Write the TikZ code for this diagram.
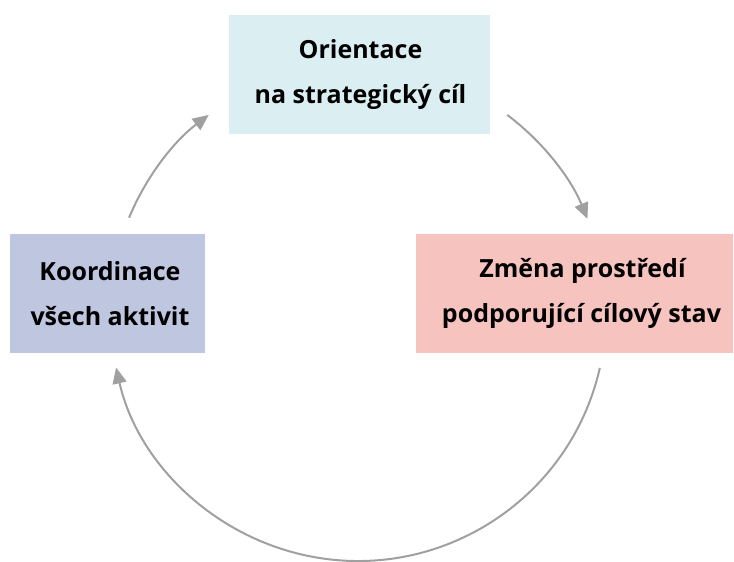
\documentclass[tikz,border=0pt]{standalone}
\usepackage{fontspec}
\setmainfont{Open Sans}
\usetikzlibrary{arrows.meta,calc}
\definecolor{topfill}{HTML}{DBEEF2}
\definecolor{leftfill}{HTML}{BFC6E0}
\definecolor{rightfill}{HTML}{F6C3BF}
\definecolor{arrowgray}{HTML}{A0A0A0}
\tikzset{
  box/.style={draw=none, minimum height=119pt, align=center,
    font=\fontsize{25}{44.5}\selectfont\bfseries, inner sep=0pt},
  cyc/.style={draw=arrowgray, line width=2pt,
    -{Triangle[length=16pt,width=14pt]}},
}
% nudge a line of text to the right inside its box
\newcommand{\nudge}[1]{\hspace*{#1}}
\begin{document}
\begin{tikzpicture}[x=1pt,y=1pt]
  \useasboundingbox (0,0) rectangle (734,562);
  % the three stages
  \node[box, fill=topfill, minimum width=261pt] (orient) at (359.5,487.5)
    {\nudge{2pt}Orientace\\\nudge{2pt}na strategický cíl};
  \node[box, fill=rightfill, minimum width=317pt] (change) at (574.5,268.5)
    {\nudge{16pt}Změna prostředí\\\nudge{14pt}podporující cílový stav};
  \node[box, fill=leftfill, minimum width=195pt] (coord) at (107.5,268.5)
    {\nudge{5pt}Koordinace\\\nudge{5pt}všech aktivit};
  % the cycle runs clockwise on one circle
  \coordinate (ctr) at (358,249);
  \def\R{248}
  \coordinate (s1) at ($(ctr)+(53:\R)$);
  \coordinate (s2) at ($(ctr)+(-12.8:\R)$);
  \coordinate (s3) at ($(ctr)+(157.4:\R)$);
  \draw[cyc] (s1) arc[start angle=53, end angle=22.3, radius=\R];
  \draw[cyc] (s2) arc[start angle=-12.8, end angle=-167.3, radius=\R];
  \draw[cyc] (s3) arc[start angle=157.4, end angle=127, radius=\R];
\end{tikzpicture}
\end{document}
